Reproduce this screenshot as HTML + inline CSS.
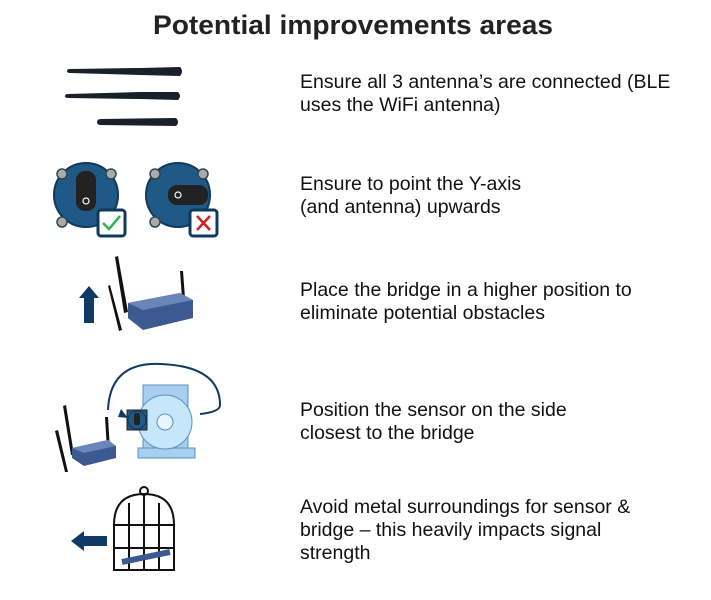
<!DOCTYPE html>
<html><head><meta charset="utf-8"><style>
html,body{margin:0;padding:0;background:#fff;}
svg{display:block;}
text{font-family:"Liberation Sans",Arial,sans-serif;}
</style></head><body>
<svg width="711" height="600" viewBox="0 0 711 600" xmlns="http://www.w3.org/2000/svg">
<text x="153" y="34" font-size="27" font-weight="bold" fill="#222" textLength="400" lengthAdjust="spacingAndGlyphs">Potential improvements areas</text>
<g font-size="19.5" fill="#111">
<text x="300" y="88">Ensure all 3 antenna’s are connected (BLE</text>
<text x="300" y="111">uses the WiFi antenna)</text>
<text x="300" y="190">Ensure to point the Y-axis</text>
<text x="300" y="213">(and antenna) upwards</text>
<text x="300" y="296">Place the bridge in a higher position to</text>
<text x="300" y="319">eliminate potential obstacles</text>
<text x="300" y="416">Position the sensor on the side</text>
<text x="300" y="439">closest to the bridge</text>
<text x="300" y="513">Avoid metal surroundings for sensor &amp;</text>
<text x="300" y="536">bridge – this heavily impacts signal</text>
<text x="300" y="559">strength</text>
</g>
<!-- antennas -->
<g fill="#1a1f2a">
<path d="M67 71 Q67 69 70 69 L140 68 L180 67 Q184 71 180 76 L140 75 L70 73 Q67 73 67 71 Z"/>
<path d="M65 96 Q65 94 68 94 L140 92 L178 92 Q182 96 178 100 L140 99 L68 98 Q65 98 65 96 Z"/>
<path d="M97 122 Q97 119 101 119 L176 118 Q180 122 176 126 L101 125 Q97 125 97 122 Z"/>
</g>
<!-- sensors -->
<g>
<circle cx="86" cy="195" r="32" fill="#1e5a85" stroke="#0f3a5c" stroke-width="2"/>
<circle cx="62" cy="174" r="5" fill="#aaa" stroke="#345" stroke-width="1.5"/>
<circle cx="111" cy="174" r="5" fill="#aaa" stroke="#345" stroke-width="1.5"/>
<circle cx="62" cy="222" r="5" fill="#aaa" stroke="#345" stroke-width="1.5"/>
<rect x="76" y="171" width="20" height="40" rx="9" fill="#222"/>
<circle cx="86" cy="201" r="3" fill="none" stroke="#fff" stroke-width="1.2"/>
<rect x="98" y="210" width="27" height="26" rx="3" fill="#fff" stroke="#0f3a5c" stroke-width="3"/>
<path d="M103 223 L109 229 L120 216" fill="none" stroke="#2bb34a" stroke-width="2.5"/>
<circle cx="178" cy="195" r="32" fill="#1e5a85" stroke="#0f3a5c" stroke-width="2"/>
<circle cx="155" cy="174" r="5" fill="#aaa" stroke="#345" stroke-width="1.5"/>
<circle cx="203" cy="174" r="5" fill="#aaa" stroke="#345" stroke-width="1.5"/>
<circle cx="155" cy="222" r="5" fill="#aaa" stroke="#345" stroke-width="1.5"/>
<rect x="168" y="185" width="40" height="20" rx="9" fill="#222"/>
<circle cx="178" cy="195" r="3" fill="none" stroke="#fff" stroke-width="1.2"/>
<rect x="190" y="210" width="27" height="26" rx="3" fill="#fff" stroke="#0f3a5c" stroke-width="3"/>
<path d="M197 216 L210 230 M210 216 L197 230" stroke="#d42020" stroke-width="2.5"/>
</g>
<!-- up arrow -->
<path d="M84 323 L84 298 L79 298 L89 286 L99 298 L94 298 L94 323 Z" fill="#0f3a66"/>
<!-- router 1 -->
<g>
<path d="M118 256 L128 312 L124 313 L115 257 Z" fill="#111"/>
<path d="M110 285 L122 330 L119 331 L108 286 Z" fill="#111"/>
<path d="M183 271 L186 312 L183 312 L180 271 Z" fill="#111"/>
<path d="M128 303 L180 293 L193 300 L193 318 L143 330 L128 318 Z" fill="#3c5a8f"/>
<path d="M128 303 L180 293 L193 300 L143 310 Z" fill="#6a86b8"/>
</g>
<!-- router 2 -->
<g>
<path d="M66 405 L74 455 L71 455 L63 406 Z" fill="#111"/>
<path d="M58 430 L68 472 L65 472 L55 431 Z" fill="#111"/>
<path d="M108 417 L110 450 L107 450 L105 417 Z" fill="#111"/>
<path d="M72 448 L108 440 L116 446 L116 458 L84 466 L72 458 Z" fill="#3c5a8f"/>
<path d="M72 448 L108 440 L116 446 L84 453 Z" fill="#6a86b8"/>
</g>
<!-- motor -->
<g>
<path d="M108 410 Q110 362 160 364 Q220 366 220 405 Q220 412 200 414" fill="none" stroke="#0f3a66" stroke-width="2"/>
<path d="M121 409 L128 418 L118 417 Z" fill="#0f3a66"/>
<rect x="143" y="385" width="45" height="70" fill="#a8d0ee" stroke="#5a90c0"/>
<rect x="138" y="448" width="57" height="10" fill="#a8d0ee" stroke="#5a90c0"/>
<circle cx="165" cy="422" r="27" fill="#c5e6fb" stroke="#5a90c0"/>
<circle cx="165" cy="422" r="8" fill="#e8f5ff" stroke="#5a90c0"/>
<rect x="127" y="410" width="20" height="20" fill="#1e5a85" stroke="#222"/>
<circle cx="137" cy="420" r="9" fill="#1e5a85" stroke="#0f3a5c"/>
<rect x="134" y="413" width="6" height="12" rx="2" fill="#222"/>
</g>
<!-- left arrow -->
<path d="M107 536 L84 536 L84 531 L71 541 L84 551 L84 546 L107 546 Z" fill="#0f3a66"/>
<!-- cage -->
<g fill="none" stroke="#111" stroke-width="2">
<circle cx="144" cy="491" r="4"/>
<path d="M114 570 L114 525 Q114 494 144 494 Q174 494 174 525 L174 570 Z"/>
<path d="M129 570 L129 503 M144 570 L144 494 M159 570 L159 503 M114 525 L174 525 M114 548 L174 548"/>
<path d="M122 562 L170 552" stroke="#3c5a8f" stroke-width="6"/>
</g>
</svg>
</body></html>
